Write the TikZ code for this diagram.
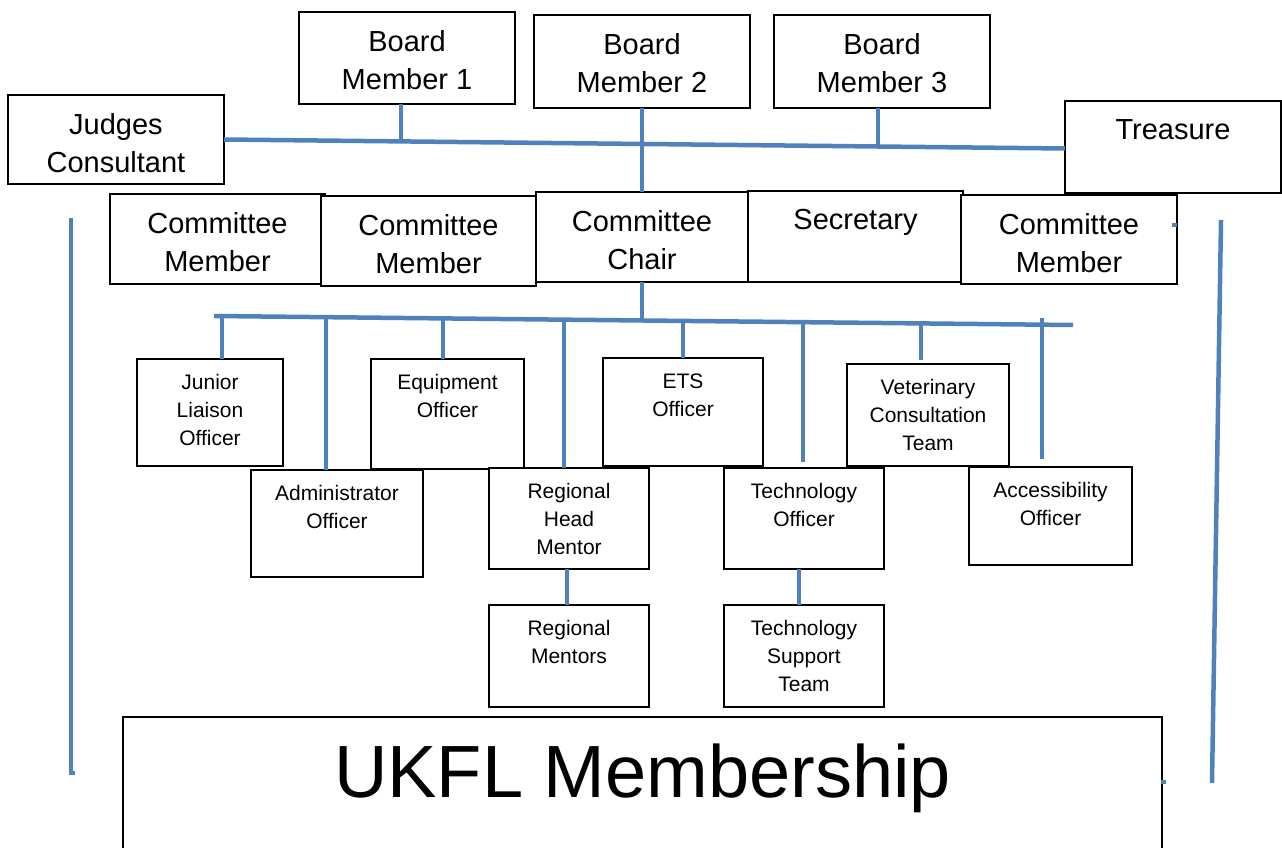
\documentclass[tikz,border=0pt]{standalone}
\usepackage{fontspec}
\setmainfont{Liberation Sans}
\usetikzlibrary{calc}
\definecolor{conblue}{RGB}{79,129,189}
\newcommand\orgbox[7]{%
  \node[box, minimum width={#4-#2}, minimum height={#5-#3}, anchor=north west] (#1) at (#2,#3) {};
  \node[#6] (#1-t) at (#1.north) {#7};}
\begin{document}
\begin{tikzpicture}[x=1pt,y=-1pt,
  box/.style={draw=black, line width=1.5pt, fill=white, inner sep=0pt, outer sep=0pt},
  big/.style={font=\fontsize{29}{38.5}\selectfont, align=center, inner sep=0pt, anchor=north, yshift=-18pt},
  small/.style={font=\fontsize{21}{28}\selectfont, align=center, inner sep=0pt, anchor=north, yshift=-15.5pt},
  conn/.style={draw=conblue, line width=4.5pt}]
\useasboundingbox (0,0) rectangle (1282,848);
\clip (0,0) rectangle (1282,848);

% ---- boxes, top tier
\orgbox{bm1}{299}{12}{515}{104}{big}{Board\\Member 1}
\orgbox{bm2}{534}{15}{750}{108}{big}{Board\\Member 2}
\orgbox{bm3}{774}{15}{990}{108}{big}{Board\\Member 3}
\orgbox{judges}{8}{95}{224}{184}{big}{Judges\\Consultant}
\orgbox{treasure}{1065}{101}{1281}{193}{big}{Treasure}
% ---- committee row
\orgbox{cm1}{110}{194}{325}{284}{big}{Committee\\Member}
\orgbox{cm2}{321}{196}{536}{286}{big}{Committee\\Member}
\orgbox{chair}{536}{192}{748}{282}{big}{Committee\\Chair}
\orgbox{secretary}{748}{191}{963}{282}{big}{Secretary}
\orgbox{cm3}{961}{195}{1177}{284}{big}{Committee\\Member}
% ---- officers, upper row
\orgbox{junior}{137}{359}{283}{466}{small}{Junior\\Liaison\\Officer}
\orgbox{equip}{371}{359}{524}{469}{small}{Equipment\\Officer}
\orgbox{ets}{603}{358}{763}{466}{small}{ETS\\Officer}
\orgbox{vet}{847}{364}{1009}{466}{small}{Veterinary\\Consultation\\Team}
% ---- officers, lower row
\orgbox{admin}{251}{470}{423}{577}{small}{Administrator\\Officer}
\orgbox{rhm}{489}{468}{649}{569}{small}{Regional\\Head\\Mentor}
\orgbox{tech}{724}{468}{884}{569}{small}{Technology\\Officer}
\orgbox{access}{969}{467}{1132}{565}{small}{Accessibility\\Officer}
% ---- bottom row
\orgbox{rm}{489}{605}{649}{707}{small}{Regional\\Mentors}
\orgbox{tst}{724}{605}{884}{707}{small}{Technology\\Support\\Team}
% ---- membership
\node[box, minimum width=1039, minimum height=200, anchor=north west] (ukfl) at (123,717) {};
\node[font=\fontsize{74}{80}\selectfont, anchor=base, inner sep=0pt] (ukfl-t) at (642.5,797) {UKFL Membership};

% ---- board bus
\draw[conn] (judges.east) -- ([yshift=-1.5pt]treasure.west);
\coordinate (j1) at (401,141.4);
\coordinate (j3) at (878,146.5);
\draw[conn] (bm1.south -| j1) -- (j1);
\draw[conn] (bm3.south -| j3) -- (j3);
\draw[conn] (bm2.south) -- (chair.north);

% ---- committee bus
\coordinate (bus2w) at (214,316);
\coordinate (bus2e) at (1073,325);
\coordinate (k0) at (642,320.5);
\draw[conn] (bus2w) -- (bus2e);
\draw[conn] (chair.south) -- (k0);
\coordinate (k1) at (222,316.1);
\coordinate (k2) at (326,317.2);
\coordinate (k3) at (443,318.4);
\coordinate (k4) at (564,319.7);
\coordinate (k5) at (683,320.9);
\coordinate (k6) at (803,322.2);
\coordinate (k7) at (921,323.4);
\coordinate (k8) at (1042,318);
\coordinate (k6e) at (803,462);
\coordinate (k7e) at (921,360);
\coordinate (k8e) at (1042,459);
\draw[conn] (k1) -- (k1 |- junior.north);
\draw[conn] (k2) -- (k2 |- admin.north);
\draw[conn] (k3) -- (k3 |- equip.north);
\draw[conn] (k4) -- (k4 |- rhm.north);
\draw[conn] (k5) -- (k5 |- ets.north);
\draw[conn] (k6) -- (k6e);
\draw[conn] (k7) -- (k7e);
\draw[conn] (k8) -- (k8e);
\draw[conn] ([xshift=-2pt]rhm.south) -- ([xshift=-2pt]rm.north);
\draw[conn] ([xshift=-5pt]tech.south) -- ([xshift=-5pt]tst.north);

% ---- side lines and stray ticks
\coordinate (lt) at (71,218);
\coordinate (lb) at (71,773);
\draw[conn] (lt) -- (lb) -- ++(4,0);
\coordinate (rt) at (1221,220);
\coordinate (rb) at (1212,783);
\draw[conn] (rt) -- (rb);
\coordinate (tk1) at (1172,225);
\draw[conn] (tk1) -- ++(5,0);
\coordinate (tk2) at (1161,782);
\draw[conn] (tk2) -- ++(5,0);
\end{tikzpicture}
\end{document}
